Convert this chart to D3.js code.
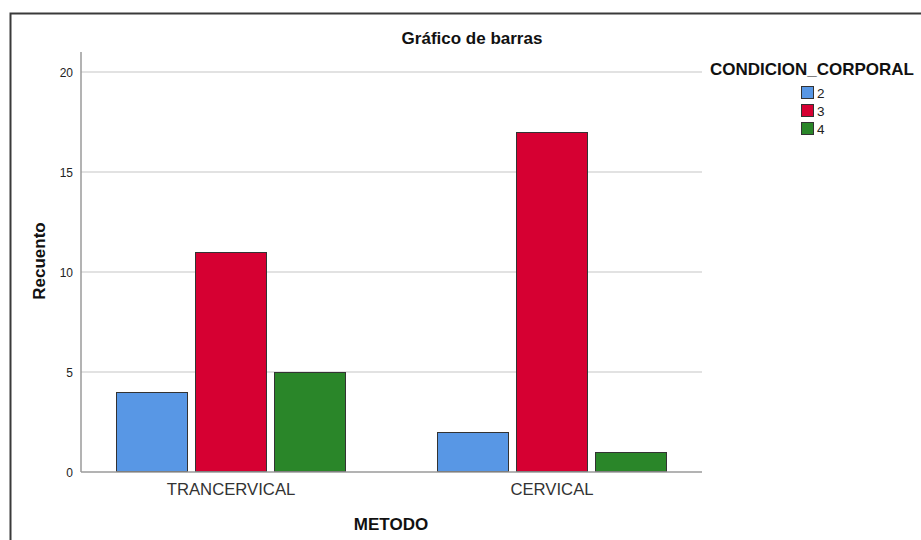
<!DOCTYPE html>
<html><head><meta charset="utf-8">
<script src="https://cdn.jsdelivr.net/npm/d3@7"></script>
<style>body{margin:0;background:#fff;}svg{display:block;font-family:Arial,"Liberation Sans",sans-serif;}</style>
</head><body>
<script>
const categories = ["TRANCERVICAL", "CERVICAL"];
const seriesKeys = ["2", "3", "4"];
const values2 = [4, 2];
const values3 = [11, 17];
const values4 = [5, 1];
const yTicks = [0, 5, 10, 15, 20];
const colors = ["#5897E5", "#D60032", "#2A8629"];

const W = 921, H = 540;
const svg = d3.select("body").append("svg").attr("width", W).attr("height", H);

// frame
svg.append("path").attr("d", `M10.5,${H+2} V13.5 H${W+2}`).attr("fill", "none")
  .attr("stroke", "#3a3a3a").attr("stroke-width", 2);

const y = d3.scaleLinear().domain([0, 20]).range([472, 72]);
const x = d3.scaleBand().domain(categories).range([70.5, 712.5]).padding(0);
const xi = d3.scaleBand().domain(seriesKeys).range([-115, 115]).paddingInner(7/79).paddingOuter(0);

const data = categories.map((c, i) => ({cat: c, vals: [values2[i], values3[i], values4[i]]}));

// gridlines
svg.append("g").selectAll("line").data(yTicks.filter(d => d > 0)).join("line")
  .attr("x1", 81).attr("x2", 702).attr("y1", d => y(d)).attr("y2", d => y(d))
  .attr("stroke", "#d9d9d9").attr("stroke-width", 1.5);

// y tick labels
svg.append("g").selectAll("text").data(yTicks).join("text")
  .attr("x", 73).attr("y", d => y(d) + 4.5).attr("text-anchor", "end")
  .attr("font-size", 12).attr("fill", "#222").text(d => d);

// bars
const g = svg.append("g");
data.forEach(d => {
  const cx = x(d.cat) + x.bandwidth() / 2;
  g.selectAll(null).data(d.vals.map((v, k) => ({v, k}))).join("rect")
    .attr("x", e => cx + xi(seriesKeys[e.k]) + 0.5)
    .attr("y", e => y(e.v) + 0.5)
    .attr("width", xi.bandwidth() - 1)
    .attr("height", e => y(0) - y(e.v) - 1)
    .attr("fill", e => colors[e.k]).attr("stroke", "#333").attr("stroke-width", 1);
});

// axes lines
svg.append("line").attr("x1", 81).attr("x2", 81).attr("y1", 52).attr("y2", 472)
  .attr("stroke", "#9a9a9a").attr("stroke-width", 1.5);
svg.append("line").attr("x1", 81).attr("x2", 702).attr("y1", 472).attr("y2", 472)
  .attr("stroke", "#9a9a9a").attr("stroke-width", 1.5);

// category labels
svg.append("g").selectAll("text").data(categories).join("text")
  .attr("x", d => x(d) + x.bandwidth() / 2).attr("y", 495).attr("text-anchor", "middle")
  .attr("font-size", 16.7).attr("fill", "#333").text(d => d);

// titles
svg.append("text").attr("x", 472).attr("y", 44).attr("text-anchor", "middle")
  .attr("font-size", 17).attr("font-weight", "bold").attr("fill", "#111").text("Gráfico de barras");
svg.append("text").attr("x", 391).attr("y", 529.5).attr("text-anchor", "middle")
  .attr("font-size", 17).attr("font-weight", "bold").attr("fill", "#111").text("METODO");
svg.append("text").attr("transform", "translate(45,261) rotate(-90)").attr("text-anchor", "middle")
  .attr("font-size", 17).attr("font-weight", "bold").attr("fill", "#111").text("Recuento");

// legend
svg.append("text").attr("x", 710).attr("y", 75).attr("font-size", 17).attr("font-weight", "bold")
  .attr("fill", "#111").text("CONDICION_CORPORAL");
const lg = svg.append("g").selectAll("g").data(seriesKeys).join("g")
  .attr("transform", (d, i) => `translate(801,${86 + i * 18})`);
lg.append("rect").attr("x", 0.5).attr("y", 0.5).attr("width", 12).attr("height", 12)
  .attr("fill", (d, i) => colors[i]).attr("stroke", "#333");
lg.append("text").attr("x", 16).attr("y", 11.5).attr("font-size", 13.5).attr("fill", "#222").text(d => d);
</script>
</body></html>
